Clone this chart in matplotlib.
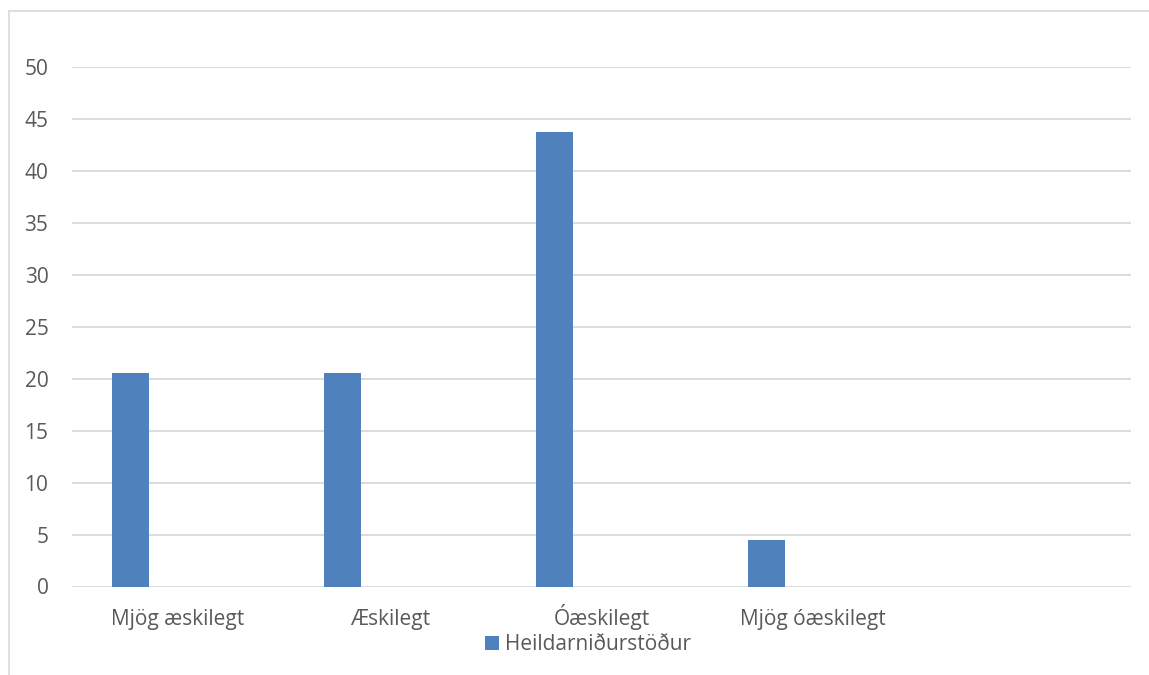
import numpy as np
from matplotlib import pyplot as plt
from matplotlib.lines import Line2D

# data
categories = ['Mjög æskilegt', 'Æskilegt', 'Óæskilegt', 'Mjög óæskilegt', '']
values = [20.5, 20.5, 43.7, 4.5]
series_name = 'Heildarniðurstöður'
y_ticks = [0, 5, 10, 15, 20, 25, 30, 35, 40, 45, 50]

plt.rcParams['font.family'] = ['Open Sans', 'DejaVu Sans']
txt_color = '#595959'
grid_color = '#d9d9d9'

W, H = 1149, 675
fig = plt.figure(figsize=(W / 100, H / 100), dpi=100)
ax = fig.add_axes([72 / W, 1 - 586.5 / H, (1131 - 72) / W, (586.5 - 66.7) / H])

x = np.arange(len(categories))
ax.bar(x[:len(values)] - 0.222, values, width=0.175, color='#4f81bd',
       label=series_name, zorder=3)

ax.set_xlim(-0.5, len(categories) - 0.5)
ax.set_ylim(0, 50)
ax.set_yticks(y_ticks)
ax.set_xticks(x)
ax.set_xticklabels(categories)
ax.tick_params(axis='both', length=0, colors=txt_color, labelsize=15)
ax.tick_params(axis='x', pad=27.7)
ax.tick_params(axis='y', pad=17)
for lbl in ax.get_xticklabels():
    lbl.set_va('baseline')
ax.yaxis.grid(True, color=grid_color, linewidth=1.3)
ax.set_axisbelow(True)
for s in ax.spines.values():
    s.set_visible(False)

leg = fig.legend(loc='center', bbox_to_anchor=(588 / W, 1 - 645 / H),
                 frameon=False, fontsize=15, handlelength=0.67, handleheight=0.67,
                 handletextpad=0.3, borderpad=0)
for t in leg.get_texts():
    t.set_color(txt_color)

# outer chart border (left and top visible in reference)
fig.add_artist(Line2D([8.5 / W, 8.5 / W], [0, 1 - 11 / H], color=grid_color, lw=1.2))
fig.add_artist(Line2D([8.5 / W, 1], [1 - 11 / H, 1 - 11 / H], color=grid_color, lw=1.2))

fig.savefig('out.png', dpi=100)
